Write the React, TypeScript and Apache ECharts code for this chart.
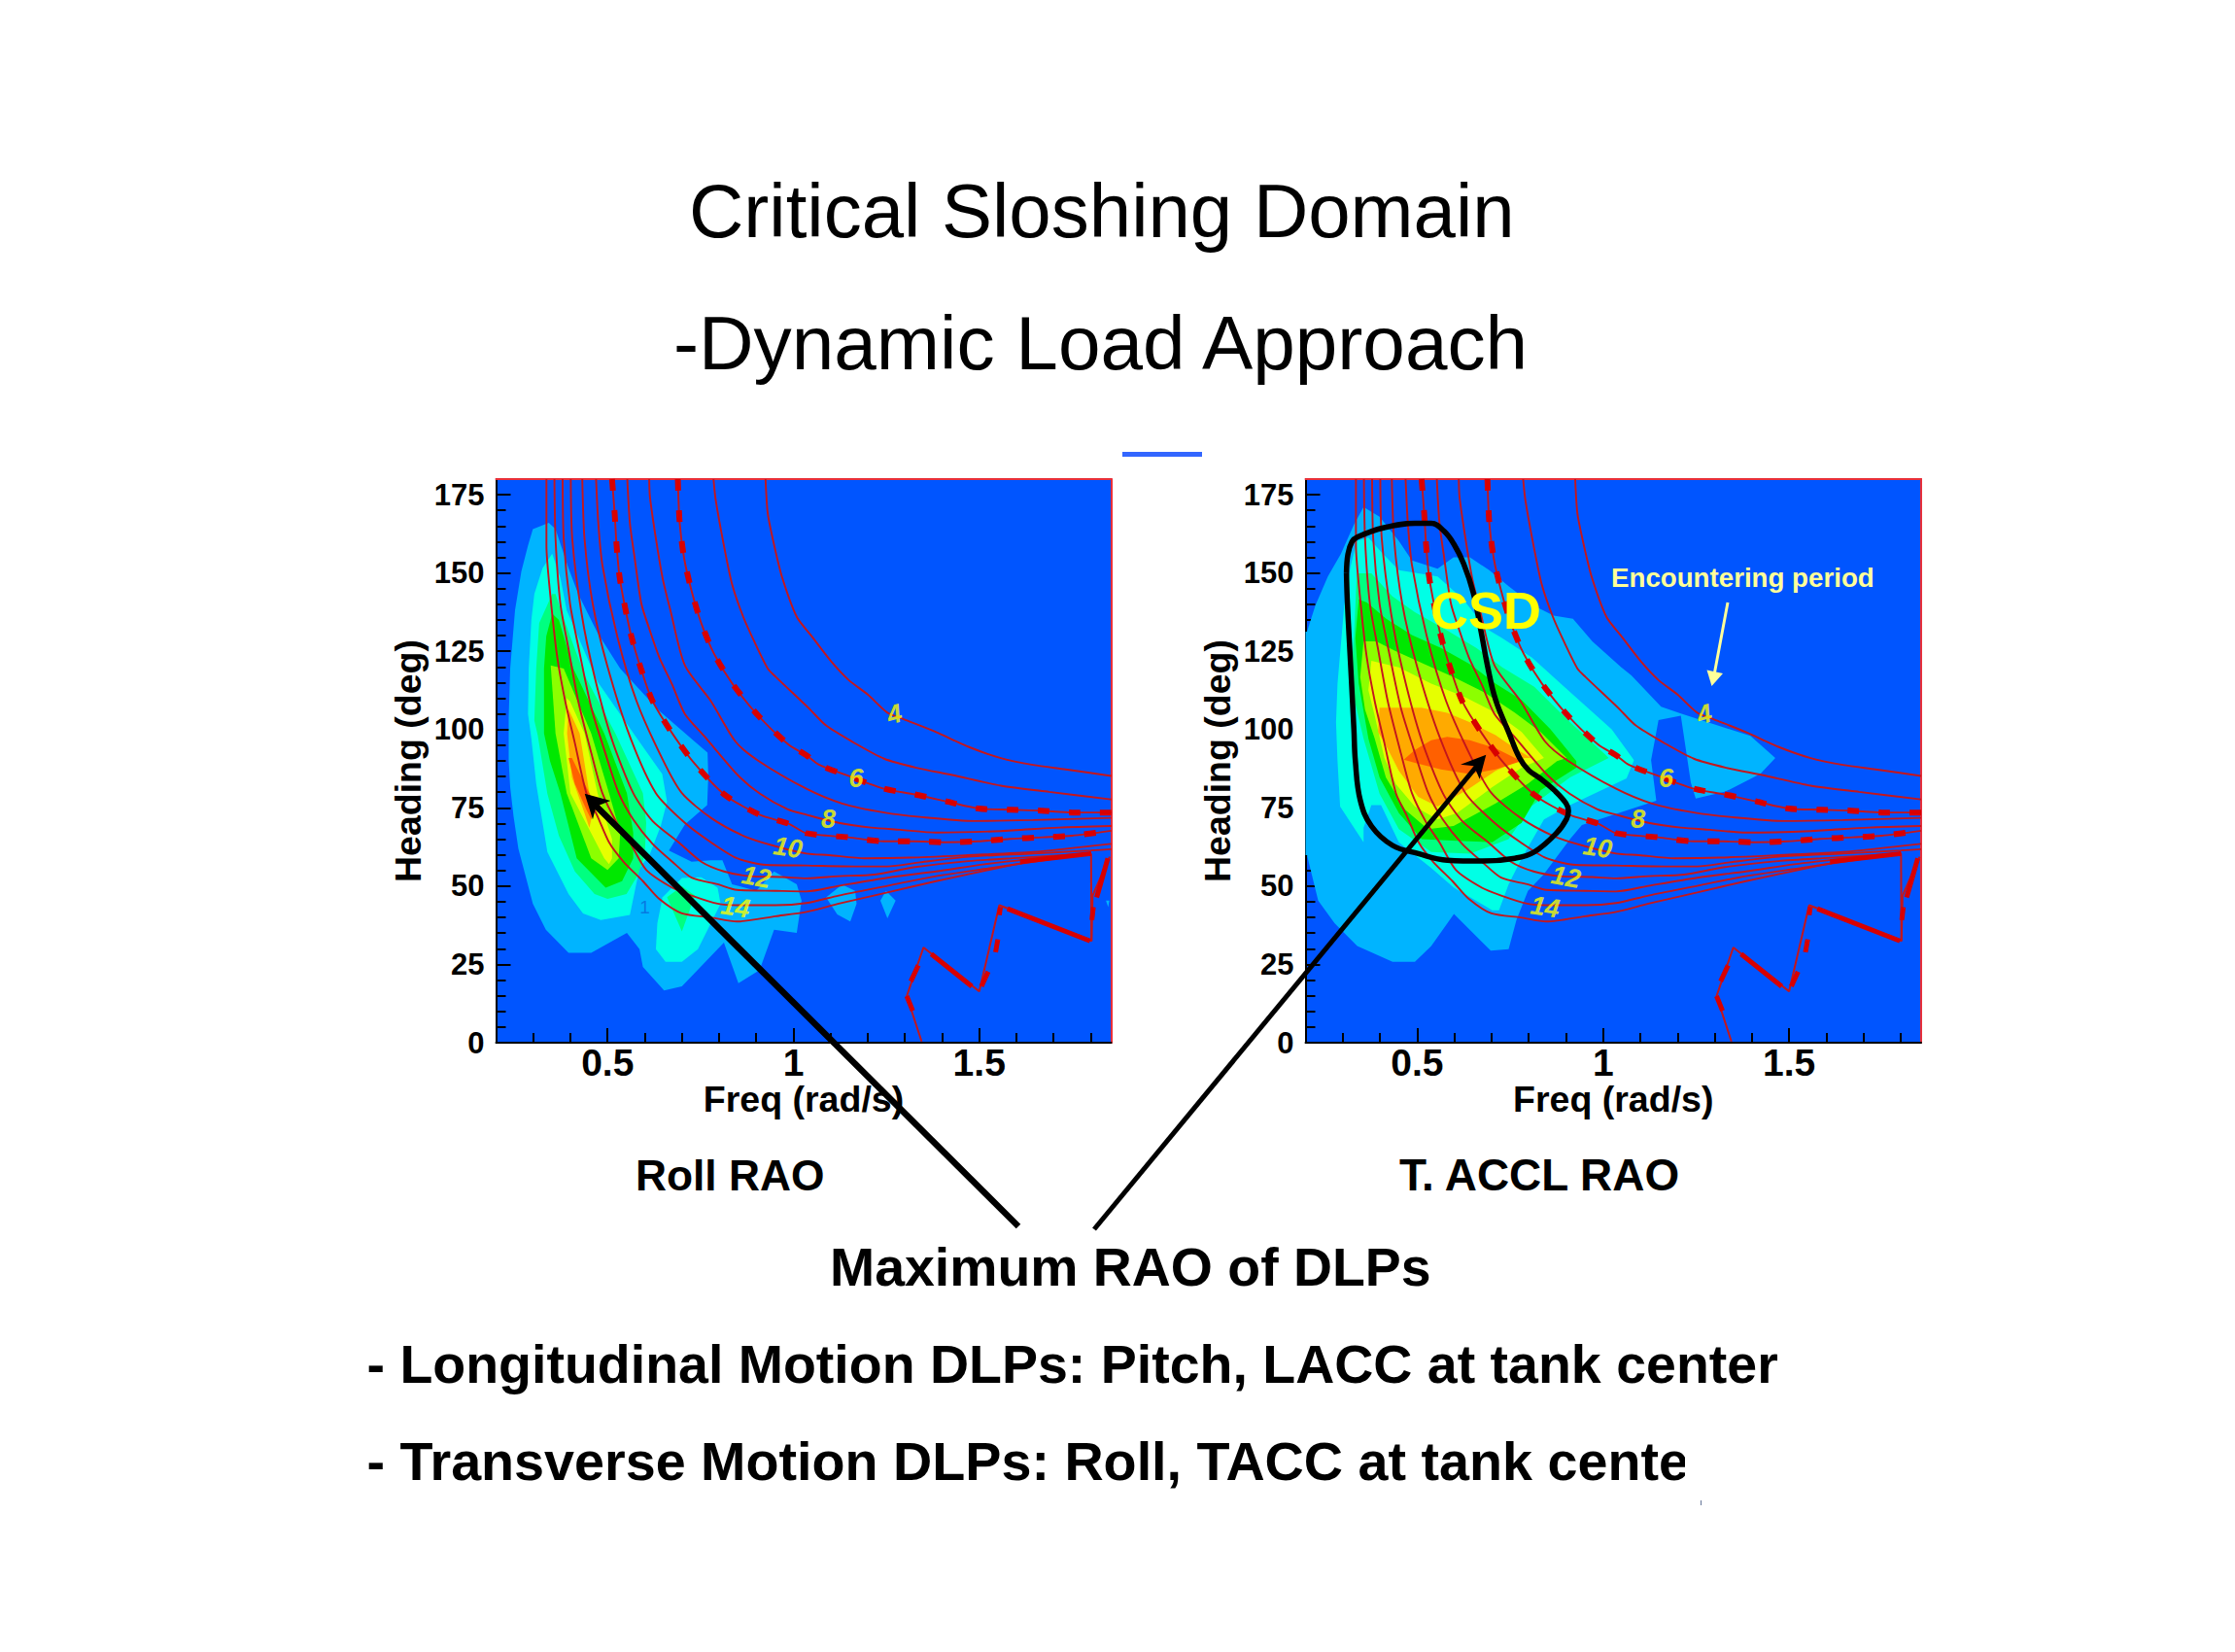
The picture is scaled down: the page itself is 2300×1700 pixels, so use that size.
import React, { useEffect, useRef } from "react";
import * as echarts from "echarts";

type Pt = number[];

const FONT = '"Liberation Sans", Arial, sans-serif';

const xMinorTicks = [0.2, 0.3, 0.4, 0.5, 0.6, 0.7, 0.8, 0.9, 1, 1.1, 1.2, 1.3, 1.4, 1.5, 1.6, 1.7, 1.8];
const xMajorTicks = [0.5, 1, 1.5];
const yMinorTicks = [0, 5, 10, 15, 20, 25, 30, 35, 40, 45, 50, 55, 60, 65, 70, 75, 80, 85, 90, 95, 100, 105, 110, 115, 120, 125, 130, 135, 140, 145, 150, 155, 160, 165, 170, 175];
const yMajorTicks = [0, 25, 50, 75, 100, 125, 150, 175];

// Encountering-period curves, [freq, heading]
const period4: Pt[] = [[0.925, 180], [0.931, 169], [0.948, 159], [0.97, 148.5], [1.009, 136], [1.048, 130], [1.1, 122], [1.149, 115.8], [1.201, 111.1], [1.253, 105.4], [1.297, 103.3], [1.384, 99.2], [1.471, 94.5], [1.558, 90.9], [1.645, 88.7], [1.732, 87.3], [1.855, 85.2]];
const period5: Pt[] = [[0.785, 180], [0.791, 173.3], [0.813, 158.8], [0.835, 146.4], [0.865, 136], [0.896, 127.8], [0.931, 119.5], [0.952, 116.9], [1.04, 107], [1.088, 101.3], [1.166, 95.6], [1.244, 90.7], [1.331, 87.8], [1.427, 85.5], [1.558, 82.1], [1.688, 80.1], [1.855, 77.7]];
const period6: Pt[] = [[0.689, 180], [0.694, 166], [0.706, 154.7], [0.726, 144.3], [0.752, 134], [0.787, 124.1], [0.835, 114.8], [0.905, 104.5], [0.987, 95.2], [1.035, 91.8], [1.07, 88.7], [1.148, 85.2], [1.244, 81.1], [1.327, 79.3], [1.414, 77], [1.497, 74.8], [1.584, 74.4], [1.667, 74.1], [1.75, 73.5], [1.855, 73.5]];
const period7: Pt[] = [[0.612, 180], [0.614, 174.3], [0.63, 161], [0.648, 148.4], [0.669, 138.1], [0.708, 120.5], [0.778, 109.1], [0.844, 96.2], [0.905, 90.1], [1.035, 81.1], [1.131, 76.4], [1.244, 73.5], [1.34, 72.1], [1.488, 70.8], [1.645, 71.1], [1.855, 71.8]];
const period8: Pt[] = [[0.553, 180], [0.56, 166], [0.573, 154.7], [0.591, 140.2], [0.613, 131.9], [0.639, 123.1], [0.674, 114.3], [0.708, 105], [0.761, 97.8], [0.85, 85.5], [0.91, 79.5], [0.985, 74.5], [1.035, 72.8], [1.122, 70.2], [1.209, 68.7], [1.288, 68], [1.384, 67.1], [1.558, 67.6], [1.714, 68.7], [1.855, 69.2]];
const period9: Pt[] = [[0.512, 180], [0.519, 169.1], [0.524, 159.3], [0.532, 149], [0.547, 139.1], [0.565, 129.3], [0.591, 119], [0.621, 109.1], [0.674, 98.8], [0.735, 89], [0.817, 79], [0.909, 72.8], [0.988, 69.9], [1.035, 66.9], [1.148, 65.6], [1.244, 64.3], [1.323, 64.3], [1.409, 64], [1.497, 64.3], [1.584, 65.1], [1.671, 65.6], [1.749, 66.1], [1.855, 67.7]];
const period10: Pt[] = [[0.469, 180], [0.475, 166], [0.486, 152.6], [0.526, 129.8], [0.578, 109.1], [0.648, 90.5], [0.7, 79.7], [0.778, 71.8], [0.865, 66.1], [0.944, 63], [1.035, 60.4], [1.096, 59.9], [1.192, 58.9], [1.314, 59.1], [1.471, 59.9], [1.645, 60.9], [1.855, 63.5]];
const period11: Pt[] = [[0.432, 180], [0.438, 160.9], [0.46, 140.2], [0.499, 120.5], [0.56, 97.8], [0.63, 79.7], [0.708, 70.2], [0.778, 64], [0.848, 58.9], [0.926, 56.8], [1.035, 56.6], [1.166, 56.3], [1.253, 56.3], [1.34, 57.6], [1.471, 59.4], [1.645, 60.4], [1.801, 61.4], [1.855, 61.8]];
const period12: Pt[] = [[0.401, 180], [0.405, 160.9], [0.43, 137.1], [0.464, 117.4], [0.512, 96.7], [0.569, 79.7], [0.621, 70.8], [0.691, 64], [0.752, 57.8], [0.813, 54.7], [0.883, 53.2], [0.97, 52.9], [1.035, 52.5], [1.122, 53.2], [1.218, 53.7], [1.323, 56], [1.471, 58], [1.602, 59], [1.801, 60.4]];
const period13: Pt[] = [[0.379, 180], [0.382, 160.9], [0.399, 140.2], [0.421, 126.7], [0.456, 107.1], [0.491, 93.6], [0.53, 79.7], [0.569, 71.3], [0.621, 63.5], [0.674, 57.8], [0.726, 52.7], [0.796, 50.6], [0.848, 48.8], [0.952, 48.5], [1.035, 48.3], [1.122, 50.1], [1.253, 52.7], [1.384, 54.7], [1.514, 57], [1.645, 58.7], [1.801, 60.4]];
const period14: Pt[] = [[0.357, 180], [0.36, 160.9], [0.373, 140.2], [0.395, 125.7], [0.421, 109.1], [0.456, 92.6], [0.486, 79.7], [0.525, 70.2], [0.56, 64], [0.604, 55.2], [0.674, 49.5], [0.726, 47], [0.796, 44.4], [0.848, 43.9], [0.952, 43.9], [1.035, 44.6], [1.122, 47], [1.253, 50.1], [1.384, 53.2], [1.532, 55.8], [1.645, 57.8], [1.801, 60.4]];
const period15: Pt[] = [[0.3355, 180], [0.3355, 158.8], [0.344, 145.3], [0.364, 123.6], [0.386, 109.1], [0.412, 95.7], [0.443, 79.7], [0.473, 72.3], [0.504, 64], [0.543, 57.8], [0.595, 51.6], [0.639, 45.9], [0.7, 41.3], [0.778, 40], [0.848, 38.7], [0.952, 40.4], [1.035, 41.8], [1.122, 44.4], [1.253, 48], [1.384, 51.6], [1.558, 56], [1.645, 58], [1.801, 60.7]];
const periodCurves = [period4, period5, period6, period7, period8, period9, period10, period11, period12, period13, period14, period15];
const dashedCurves = [period6, period9];

const foldLine: Pt[] = [[1.345, 0.4], [1.305, 14.9], [1.35, 30.4], [1.5, 16.4], [1.554, 43.9], [1.802, 32.5], [1.805, 47], [1.851, 59.4]];
const foldDrop: Pt[] = [[1.802, 32.5], [1.801, 60.4]];
const foldHeavy: Pt[][] = [
  [[1.305, 14.9], [1.321, 10.2]], [[1.316, 19.6], [1.336, 24.7]], [[1.371, 28.3], [1.48, 18]], [[1.506, 18], [1.524, 22.7]],
  [[1.544, 28.9], [1.55, 33]], [[1.554, 40.8], [1.557, 43.3]], [[1.576, 42.8], [1.798, 32.5]], [[1.803, 39.2], [1.807, 43.3]],
  [[1.816, 46.4], [1.846, 58.9]], [[1.61, 57.8], [1.801, 60.4]],
];

const periodLabels = ["4", "6", "8", "10", "12", "14"];
const periodLabelFreq = [1.272, 1.169, 1.094, 0.985, 0.9, 0.844];
const periodLabelHeading = [104.9, 84.4, 71.5, 62.3, 52.9, 43.3];
const periodLabelTilt = [15, 0, 0, -8, -10, -8];

// Roll RAO contour bands
const rollBand1: Pt[] = [[0.342, 166], [0.299, 164], [0.286, 158.8], [0.268, 150.5], [0.251, 138.1], [0.238, 119.5], [0.234, 104], [0.234, 89.9], [0.238, 81.6], [0.247, 72.3], [0.26, 62], [0.299, 44.4], [0.334, 36.1], [0.395, 28.7], [0.456, 28.7], [0.552, 35.1], [0.586, 29.9], [0.595, 24.2], [0.652, 16.7], [0.7, 18], [0.796, 29.9], [0.813, 32], [0.852, 19], [0.909, 23.2], [0.948, 36.1], [1.009, 35.1], [1.022, 45.4], [1.009, 50.6], [0.948, 54.7], [0.9, 48.5], [0.835, 50.6], [0.809, 58.3], [0.778, 58.3], [0.726, 57.8], [0.665, 61.4], [0.708, 69.7], [0.768, 75.9], [0.771, 85.2], [0.769, 92.6], [0.639, 106], [0.534, 119.5], [0.473, 130.9], [0.421, 143.3], [0.395, 151.5], [0.36, 164]];
const rollIslandA: Pt[] = [[1.088, 46.4], [1.131, 50.5], [1.166, 48.5], [1.17, 44.4], [1.153, 38.7], [1.118, 41]];
const rollIslandB: Pt[] = [[1.234, 45.4], [1.249, 48.5], [1.275, 45.4], [1.253, 39.7]];
const rollIslandC: Pt[] = [[1.841, 45.4], [1.85, 45.4], [1.847, 43.3]];
const rollBand2: Pt[] = [[0.351, 156.2], [0.325, 151.5], [0.303, 143.3], [0.295, 135], [0.288, 119.5], [0.286, 105], [0.295, 97.1], [0.308, 82.7], [0.338, 60.9], [0.395, 47.5], [0.434, 41.3], [0.482, 39.2], [0.56, 40.8], [0.586, 55.8], [0.613, 60], [0.643, 69.2], [0.66, 77], [0.647, 85.8], [0.569, 98.9], [0.473, 115.3], [0.39, 138.1], [0.373, 148.4]];
const rollBand2Lobe: Pt[] = [[0.63, 29.9], [0.656, 25.8], [0.7, 25.8], [0.743, 29.9], [0.804, 44.4], [0.796, 49.5], [0.752, 52.8], [0.7, 52.6], [0.648, 46.5], [0.634, 38.2]];
const rollBand3Lobe: Pt[] = [[0.66, 46.5], [0.7, 50], [0.735, 47], [0.7, 35.5]];
const rollBand3: Pt[] = [[0.351, 143.3], [0.316, 134], [0.308, 119.5], [0.303, 102.9], [0.312, 98.2], [0.338, 79.5], [0.369, 66.1], [0.412, 54.7], [0.465, 47.5], [0.5, 45.9], [0.551, 47.5], [0.582, 53.7], [0.6, 60], [0.604, 70.2], [0.595, 79.7], [0.521, 98.8], [0.438, 117.4], [0.377, 137], [0.36, 143.3]];
const rollBand4: Pt[] = [[0.351, 137], [0.335, 129.8], [0.329, 119.5], [0.329, 98.8], [0.345, 90], [0.373, 79.7], [0.417, 58.9], [0.495, 49.5], [0.539, 51.6], [0.569, 58.9], [0.569, 67.1], [0.552, 79.7], [0.491, 98.8], [0.408, 119.5], [0.369, 135]];
const rollBand5: Pt[] = [[0.347, 120.5], [0.36, 98.8], [0.39, 79.7], [0.456, 58.9], [0.5, 55.2], [0.53, 58.9], [0.534, 67.1], [0.504, 79.7], [0.456, 98.8], [0.382, 119.5]];
const rollBand6: Pt[] = [[0.39, 110], [0.382, 98.8], [0.4, 79.7], [0.491, 58.9], [0.504, 57], [0.512, 58.9], [0.512, 65], [0.473, 79.7], [0.438, 98.8], [0.399, 109]];
const rollBand7: Pt[] = [[0.395, 106.5], [0.391, 98.8], [0.404, 84.7], [0.438, 73.3], [0.451, 68.7], [0.46, 73.3], [0.451, 79.7], [0.425, 98.8]];
const rollBand8: Pt[] = [[0.395, 90.9], [0.412, 82.7], [0.443, 74.4], [0.456, 71.3], [0.465, 76.4], [0.443, 81.6], [0.404, 90.9]];

// T. ACCL RAO contour bands
const accelBand1: Pt[] = [[0.356, 171.1], [0.399, 168], [0.451, 160.2], [0.486, 154], [0.555, 151.4], [0.598, 155], [0.642, 155], [0.694, 150.9], [0.746, 145.8], [0.815, 139.5], [0.867, 136.4], [0.919, 135.4], [0.971, 128.2], [1.049, 119.9], [1.076, 117.3], [1.156, 107.3], [1.209, 105.1], [1.396, 98], [1.463, 90.9], [1.423, 85.9], [1.329, 80.2], [1.249, 78], [1.236, 83], [1.209, 104.4], [1.149, 103], [1.129, 90.2], [1.143, 77.3], [0.943, 69.5], [0.911, 65], [0.84, 53.7], [0.798, 48.5], [0.767, 39.2], [0.746, 29.9], [0.698, 29.4], [0.599, 41.1], [0.538, 30.9], [0.494, 25.8], [0.434, 25.8], [0.339, 30.9], [0.278, 38.2], [0.234, 45.4], [0.204, 59.9], [0.2, 59.9], [0.2, 131.3], [0.204, 131.3], [0.226, 139.5], [0.26, 148.9], [0.295, 156.1], [0.33, 165.4]];
const accelBand2: Pt[] = [[0.338, 160.2], [0.321, 152], [0.304, 139.5], [0.286, 114.7], [0.282, 102.3], [0.286, 89.9], [0.293, 75.4], [0.356, 64], [0.356, 68.7], [0.377, 75.9], [0.403, 75.9], [0.451, 64], [0.538, 55.8], [0.599, 49.5], [0.702, 42.3], [0.72, 42.3], [0.746, 50.6], [0.781, 58.9], [0.841, 71.3], [0.911, 75.9], [1.063, 84.4], [1.083, 90.2], [1.023, 100.1], [0.889, 114.4], [0.809, 123], [0.729, 129.2], [0.685, 132.3], [0.624, 141.6], [0.555, 148.9], [0.451, 150.9], [0.408, 156.1], [0.369, 161.3]];
const accelBand3: Pt[] = [[0.338, 149.9], [0.33, 129.2], [0.321, 114.7], [0.356, 97.1], [0.399, 79.5], [0.451, 68.2], [0.538, 60.9], [0.642, 60.4], [0.746, 65], [0.806, 75.4], [0.911, 84.7], [1.015, 90.9], [1.006, 92], [0.911, 102.3], [0.815, 113.7], [0.729, 119.9], [0.659, 126.1], [0.572, 132.3], [0.494, 137.5], [0.433, 142.6], [0.377, 149.9]];
const accelBand4: Pt[] = [[0.343, 141.6], [0.334, 129.2], [0.343, 114.7], [0.369, 97.1], [0.399, 84.7], [0.451, 73.3], [0.512, 65], [0.607, 64.5], [0.702, 64], [0.781, 70.2], [0.832, 80.6], [0.928, 87.8], [0.928, 89.9], [0.858, 100.2], [0.781, 109.5], [0.711, 114.7], [0.642, 120.9], [0.564, 126.1], [0.486, 130.2], [0.417, 135.4], [0.365, 140.6]];
const accelBand5: Pt[] = [[0.356, 128.2], [0.347, 116.8], [0.36, 106.4], [0.386, 97.1], [0.416, 84.7], [0.468, 74.4], [0.529, 68.2], [0.598, 69.2], [0.711, 76.4], [0.798, 82.7], [0.876, 89.9], [0.902, 90.9], [0.832, 99.2], [0.763, 105.4], [0.685, 111.6], [0.598, 116.8], [0.52, 120.9], [0.442, 125.1], [0.39, 128.2]];
const accelBand6: Pt[] = [[0.377, 122], [0.369, 112.6], [0.386, 104.4], [0.412, 90.9], [0.442, 82.7], [0.494, 75.4], [0.555, 71.3], [0.607, 73.3], [0.702, 81.6], [0.781, 87.8], [0.841, 90.9], [0.781, 99.2], [0.711, 105.4], [0.624, 110.6], [0.538, 114.7], [0.451, 119.9]];
const accelBand7: Pt[] = [[0.399, 107], [0.395, 99.2], [0.416, 95], [0.451, 86.8], [0.503, 78.5], [0.555, 75.4], [0.633, 80.6], [0.711, 86.8], [0.789, 90.9], [0.807, 90.9], [0.763, 94], [0.711, 98.2], [0.642, 102.3], [0.581, 105.4], [0.512, 107]];
const accelBand8: Pt[] = [[0.464, 90.4], [0.494, 93.5], [0.538, 96.6], [0.581, 97.7], [0.642, 96.6], [0.711, 94], [0.78, 89.9], [0.711, 87.3], [0.642, 85.8], [0.564, 87.3], [0.494, 89.4]];

const csdBoundary: Pt[] = [[0.31, 150], [0.314, 156], [0.325, 160], [0.34, 161.5], [0.408, 164.4], [0.494, 165.9], [0.538, 165.9], [0.573, 163.3], [0.599, 159.2], [0.625, 153], [0.651, 143.7], [0.672, 131.3], [0.69, 119.9], [0.711, 109.5], [0.746, 99.2], [0.775, 91], [0.8, 87], [0.83, 84.5], [0.87, 80.5], [0.9, 76.5], [0.907, 74], [0.902, 71.5], [0.876, 67.1], [0.815, 60.9], [0.763, 58.9], [0.676, 58], [0.581, 58.3], [0.503, 60.4], [0.434, 63], [0.377, 69.2], [0.347, 77.5], [0.334, 89.9], [0.33, 100.2], [0.322, 118.9], [0.317, 130], [0.312, 142], [0.31, 150]];

const BAND = ["#00b4ff", "#00ffe6", "#00ff80", "#00e800", "#8cff00", "#e6ff00", "#ffaa00", "#ff6000"];
const BG = "#0055ff";
const RED = "#c4161c";
const HEAVY = "#d80000";

const polygon = (points: Pt[], fill: string, xi: number, yi: number, z = 1) => ({
  type: "custom",
  coordinateSystem: "cartesian2d",
  xAxisIndex: xi,
  yAxisIndex: yi,
  silent: true,
  clip: true,
  z,
  data: points,
  encode: { x: 0, y: 1 },
  renderItem: (params: any, api: any) =>
    params.dataIndex === 0
      ? { type: "polygon", shape: { points: points.map((p) => api.coord(p)) }, style: { fill } }
      : null,
});

const line = (points: Pt[], color: string, width: number, xi: number, yi: number, z: number, extra: any = {}) => ({
  type: "line",
  xAxisIndex: xi,
  yAxisIndex: yi,
  data: points,
  symbol: "none",
  silent: true,
  z,
  lineStyle: { color, width, cap: "butt", ...(extra.lineStyle || {}) },
  smooth: extra.smooth ?? 0,
});

function panelSeries(bands: [Pt[], string][], xi: number, yi: number) {
  const out: any[] = bands.map(([pts, c], i) => polygon(pts, c, xi, yi, 1 + i * 0.001));
  periodCurves.forEach((c) => out.push(line(c, RED, 1.9, xi, yi, 3, { smooth: 0.25 })));
  dashedCurves.forEach((c) =>
    out.push(line(c, HEAVY, 6, xi, yi, 3.1, { smooth: 0.25, lineStyle: { type: [12, 20] } }))
  );
  out.push(line(foldLine, RED, 2, xi, yi, 3));
  out.push(line(foldDrop, RED, 2, xi, yi, 3));
  foldHeavy.forEach((s) => out.push(line(s, HEAVY, 5, xi, yi, 3.1)));
  out.push({
    type: "scatter",
    xAxisIndex: xi,
    yAxisIndex: yi,
    silent: true,
    symbolSize: 0,
    z: 4,
    data: periodLabels.map((t, i) => ({
      value: [periodLabelFreq[i], periodLabelHeading[i]],
      label: {
        show: true,
        formatter: t,
        position: "inside",
        rotate: periodLabelTilt[i],
        color: "#ffff00",
        fontFamily: FONT,
        fontWeight: "bold",
        fontStyle: "italic",
        fontSize: 27,
      },
    })),
  });
  return out;
}

function axesFor(gridIndex: number) {
  const labelBase = { color: "#000", fontFamily: FONT, fontWeight: "bold" };
  const xs = [
    {
      type: "value", gridIndex, min: 0.2, max: 1.855, position: "bottom",
      name: "Freq (rad/s)", nameLocation: "middle", nameGap: 39,
      nameTextStyle: { ...labelBase, fontSize: 37.5 },
      axisLine: { show: true, onZero: false, lineStyle: { color: "#000", width: 2 } },
      axisTick: { show: true, inside: true, length: 10, customValues: xMinorTicks, lineStyle: { color: "#000", width: 2 } },
      axisLabel: { show: false },
      splitLine: { show: false },
    },
    {
      type: "value", gridIndex, min: 0.2, max: 1.855, position: "bottom",
      axisLine: { show: false, onZero: false },
      axisTick: { show: true, inside: true, length: 15, customValues: xMajorTicks, lineStyle: { color: "#000", width: 2 } },
      axisLabel: { show: true, customValues: xMajorTicks, margin: 1, ...labelBase, fontSize: 39, formatter: (v: number) => String(v) },
      splitLine: { show: false },
    },
    {
      type: "value", gridIndex, min: 0.2, max: 1.855, position: "top",
      axisLine: { show: true, onZero: false, lineStyle: { color: "#e8303a", width: 2 } },
      axisTick: { show: false }, axisLabel: { show: false }, splitLine: { show: false },
    },
  ];
  const ys = [
    {
      type: "value", gridIndex, min: 0, max: 180, position: "left",
      name: "Heading (deg)", nameLocation: "middle", nameGap: 72,
      nameTextStyle: { ...labelBase, fontSize: 37.5 },
      axisLine: { show: true, onZero: false, lineStyle: { color: "#000", width: 2 } },
      axisTick: { show: true, inside: true, length: 10, customValues: yMinorTicks, lineStyle: { color: "#000", width: 2 } },
      axisLabel: { show: false },
      splitLine: { show: false },
    },
    {
      type: "value", gridIndex, min: 0, max: 180, position: "left",
      axisLine: { show: false, onZero: false },
      axisTick: { show: true, inside: true, length: 15, customValues: yMajorTicks, lineStyle: { color: "#000", width: 2 } },
      axisLabel: { show: true, customValues: yMajorTicks, margin: 12, ...labelBase, fontSize: 31 },
      splitLine: { show: false },
    },
    {
      type: "value", gridIndex, min: 0, max: 180, position: "right",
      axisLine: { show: true, onZero: false, lineStyle: { color: "#e8303a", width: 2 } },
      axisTick: { show: false }, axisLabel: { show: false }, splitLine: { show: false },
    },
  ];
  return { xs, ys };
}

const text = (t: string, x: number, y: number, size: number, opts: any = {}) => ({
  type: "text",
  z: 100,
  x,
  y,
  style: {
    text: t,
    fontFamily: FONT,
    fontSize: size,
    fontWeight: opts.weight || "normal",
    fill: opts.fill || "#000",
    textAlign: opts.align || "left",
    textVerticalAlign: "bottom",
    verticalAlign: "alphabetic",
    textBaseline: "alphabetic",
  },
});

const blackArrow = (x1: number, y1: number, x2: number, y2: number, w: number, head: number[][]) => [
  { type: "line", z: 90, shape: { x1, y1, x2, y2 }, style: { stroke: "#000", lineWidth: w } },
  { type: "polygon", z: 91, shape: { points: head }, style: { fill: "#000" } },
];

export default function App() {
  const ref = useRef<HTMLDivElement>(null);
  useEffect(() => {
    const chart = echarts.init(ref.current!, null, { renderer: "svg" });
    const a = axesFor(0);
    const b = axesFor(1);
    const rollBands: [Pt[], string][] = [
      [rollBand1, BAND[0]], [rollIslandA, BAND[0]], [rollIslandB, BAND[0]], [rollIslandC, BAND[0]],
      [rollBand2, BAND[1]], [rollBand2Lobe, BAND[1]], [rollBand3Lobe, BAND[2]], [rollBand3, BAND[2]],
      [rollBand4, BAND[3]], [rollBand5, BAND[4]], [rollBand6, BAND[5]], [rollBand7, BAND[6]], [rollBand8, BAND[7]],
    ];
    const accelBands: [Pt[], string][] = [
      [accelBand1, BAND[0]], [accelBand2, BAND[1]], [accelBand3, BAND[2]], [accelBand4, BAND[3]],
      [accelBand5, BAND[4]], [accelBand6, BAND[5]], [accelBand7, BAND[6]], [accelBand8, BAND[7]],
    ];
    const rollSeries = panelSeries(rollBands, 0, 0);
    rollSeries.push({
      type: "scatter", xAxisIndex: 0, yAxisIndex: 0, silent: true, symbolSize: 0, z: 4,
      data: [{
        value: [0.6, 43.3],
        label: { show: true, formatter: "1", position: "inside", color: "#0a6ad8", fontFamily: FONT, fontSize: 19 },
      }],
    });
    const accelSeries = panelSeries(accelBands, 3, 3);
    accelSeries.push(line(csdBoundary, "#000", 5.5, 3, 3, 5, { smooth: 0.4 }));

    chart.setOption({
      animation: false,
      backgroundColor: "#fff",
      grid: [
        { left: 510.5, top: 493, width: 633, height: 580, show: true, backgroundColor: BG, borderWidth: 0 },
        { left: 1343.5, top: 493, width: 633.5, height: 580, show: true, backgroundColor: BG, borderWidth: 0 },
      ],
      xAxis: [...a.xs, ...b.xs],
      yAxis: [...a.ys, ...b.ys],
      series: [...rollSeries, ...accelSeries],
      graphic: [
        text("Critical Sloshing Domain", 709, 256, 78),
        text("-Dynamic Load Approach", 693, 392, 78.3),
        { type: "rect", z: 100, shape: { x: 1155, y: 465, width: 82, height: 5 }, style: { fill: "#3366ff" } },
        text("Roll RAO", 654, 1231, 44.3, { weight: "bold" }),
        text("T. ACCL RAO", 1440, 1232, 45.9, { weight: "bold" }),
        text("Maximum RAO of DLPs", 854, 1331, 55.4, { weight: "bold" }),
        text("- Longitudinal Motion DLPs: Pitch, LACC at tank center", 377.5, 1432, 55.5, { weight: "bold" }),
        text("- Transverse Motion DLPs: Roll, TACC at tank cente", 377.5, 1532, 55.7, { weight: "bold" }),
        { type: "rect", z: 110, shape: { x: 1734, y: 1476, width: 90, height: 70 }, style: { fill: "#fff" } },
        { type: "rect", z: 111, shape: { x: 1750, y: 1544, width: 1, height: 5 }, style: { fill: "#667799" } },
        text("CSD", 1472, 655, 54, { weight: "bold", fill: "#ffff00" }),
        text("Encountering period", 1658, 608, 27.7, { weight: "bold", fill: "#ffff99" }),
        { type: "line", z: 100, shape: { x1: 1778, y1: 620, x2: 1764.5, y2: 692 }, style: { stroke: "#ffff99", lineWidth: 3 } },
        { type: "polygon", z: 100, shape: { points: [[1761.5, 706], [1756.5, 689.6], [1773, 693]] }, style: { fill: "#ffff99" } },
        ...blackArrow(1048, 1262, 610, 826, 6.5, [[601.7, 816.7], [628.3, 824], [613.3, 830], [610, 843.3]]),
        ...blackArrow(1126, 1265, 1520, 788, 5, [[1529.3, 776.7], [1503, 786.7], [1516.7, 788.3], [1522.7, 801.7]]),
      ],
    });
    return () => chart.dispose();
  }, []);
  return <div ref={ref} style={{ position: "fixed", left: 0, top: 0, width: 2300, height: 1700 }} />;
}
